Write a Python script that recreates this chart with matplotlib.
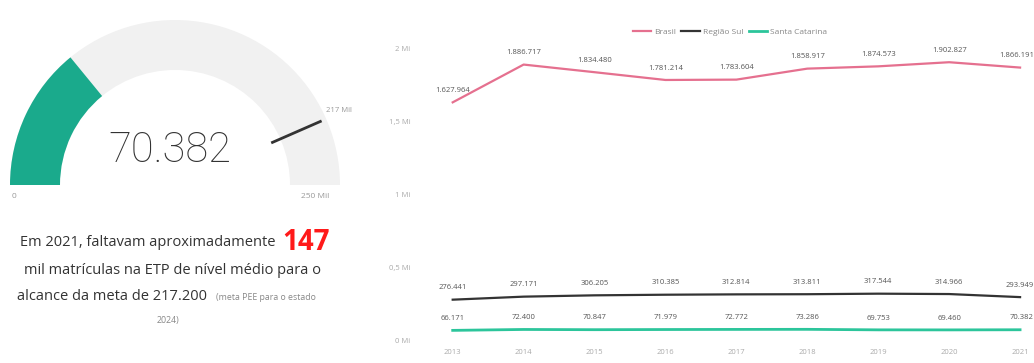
import numpy as np
import matplotlib
matplotlib.use('Agg')
import matplotlib.pyplot as plt
from matplotlib.patches import Wedge

# gauge
gauge_value = 70382
gauge_min = 0
gauge_max = 250000
gauge_target = 217200
gauge_min_label = '0'
gauge_max_label = '250 Mil'
gauge_target_label = '217 Mil'

# line chart
years = ['2013', '2014', '2015', '2016', '2017', '2018', '2019', '2020', '2021']
brasil = [1627964, 1886717, 1834480, 1781214, 1783604, 1858917, 1874573, 1902827, 1866191]
regiao_sul = [276441, 297171, 306205, 310385, 312814, 313811, 317544, 314966, 293949]
santa_catarina = [66171, 72400, 70847, 71979, 72772, 73286, 69753, 69460, 70382]
series_names = ['Brasil', 'Região Sul', 'Santa Catarina']
y_ticks = [0, 500000, 1000000, 1500000, 2000000]
y_tick_labels = ['0 Mi', '0,5 Mi', '1 Mi', '1,5 Mi', '2 Mi']


def fmt_br(v):
    return f'{v:,}'.replace(',', '.')


plt.rcParams['font.family'] = ['Open Sans', 'DejaVu Sans']

W, H = 1034, 363
fig = plt.figure(figsize=(W / 100, H / 100), dpi=100)

# ---- left panel: gauge + text, pixel coordinates (y up) ----
axg = fig.add_axes([0, 0, 360 / W, 1])
axg.set_xlim(0, 360)
axg.set_ylim(0, H)
axg.axis('off')

cx, cy = 175, H - 185
r_out, ring = 165, 50
frac = (gauge_value - gauge_min) / (gauge_max - gauge_min)
axg.add_patch(Wedge((cx, cy), r_out, 0, 180, width=ring, color='#f1f1f1', lw=0))
axg.add_patch(Wedge((cx, cy), r_out, 180 - 180 * frac, 180, width=ring,
                    color='#1aaa8c', lw=0))

tfrac = (gauge_target - gauge_min) / (gauge_max - gauge_min)
ang = np.radians(180 - 180 * tfrac)
axg.plot([cx + 105 * np.cos(ang), cx + 160 * np.cos(ang)],
         [cy + 105 * np.sin(ang), cy + 160 * np.sin(ang)],
         color='#333333', lw=2, solid_capstyle='butt')
axg.text(cx + 165 * np.cos(ang), cy + 165 * np.sin(ang) + 8, gauge_target_label,
         fontsize=5.5, color='#999999', ha='left', va='center')

axg.text(170, H - 150, fmt_br(gauge_value), fontsize=30, color='#333333',
         ha='center', va='center', family=['Roboto', 'DejaVu Sans'], fontweight='light')
axg.text(12, H - 196, gauge_min_label, fontsize=6, color='#999999', ha='left', va='center')
axg.text(315, H - 196, gauge_max_label, fontsize=6, color='#999999', ha='center', va='center')

# paragraph under the gauge
txt_color = '#333333'
axg.text(148, H - 243, 'Em 2021, faltavam aproximadamente', fontsize=10.5,
         color=txt_color, ha='center', va='center')
axg.text(282, H - 242, '147', fontsize=20, color='#ff1a1a', fontweight='bold',
         ha='left', va='center')
axg.text(172, H - 270, 'mil matrículas na ETP de nível médio para o', fontsize=10.5,
         color=txt_color, ha='center', va='center')
axg.text(17, H - 296, 'alcance da meta de 217.200', fontsize=10.5,
         color=txt_color, ha='left', va='center')
axg.text(216, H - 297, '(meta PEE para o estado', fontsize=6.3,
         color='#888888', ha='left', va='center')
axg.text(168, H - 321, '2024)', fontsize=6.3, color='#888888', ha='center', va='center')

# ---- right panel: line chart ----
x = np.arange(len(years))
ax = fig.add_axes([430 / W, 18 / H, 600 / W, 305 / H])
ax.set_xlim(-0.32, 8.14)
ax.set_ylim(-34000, 2055000)

ax.plot(x, brasil, color='#e5708f', lw=1.6, label=series_names[0])
ax.plot(x, regiao_sul, color='#333333', lw=1.6, label=series_names[1])
ax.plot(x, santa_catarina, color='#2cc59b', lw=2, label=series_names[2])

label_style = dict(fontsize=5.5, color='#555555', va='bottom')
last = len(years) - 1
for series in (brasil, regiao_sul, santa_catarina):
    for xi, v in zip(x, series):
        if xi == last:
            ax.annotate(fmt_br(v), (xi, v), xytext=(10, 6), textcoords='offset points',
                        ha='right', **label_style)
        else:
            ax.annotate(fmt_br(v), (xi, v), xytext=(0, 6), textcoords='offset points',
                        ha='center', **label_style)

ax.set_yticks(y_ticks)
ax.set_yticklabels(y_tick_labels)
ax.set_xticks(x)
ax.set_xticklabels(years)
ax.tick_params(length=0, labelsize=5.5, labelcolor='#aaaaaa')
ax.tick_params(axis='y', pad=14)
ax.tick_params(axis='x', pad=3)
for s in ax.spines.values():
    s.set_visible(False)

ax.legend(loc='lower center', bbox_to_anchor=(0.5, 0.99), ncol=3, frameon=False,
          fontsize=6, labelcolor='#888888', handlelength=2.2, columnspacing=0.6,
          handletextpad=0.4)

fig.savefig('out.png', dpi=100, facecolor='white')
